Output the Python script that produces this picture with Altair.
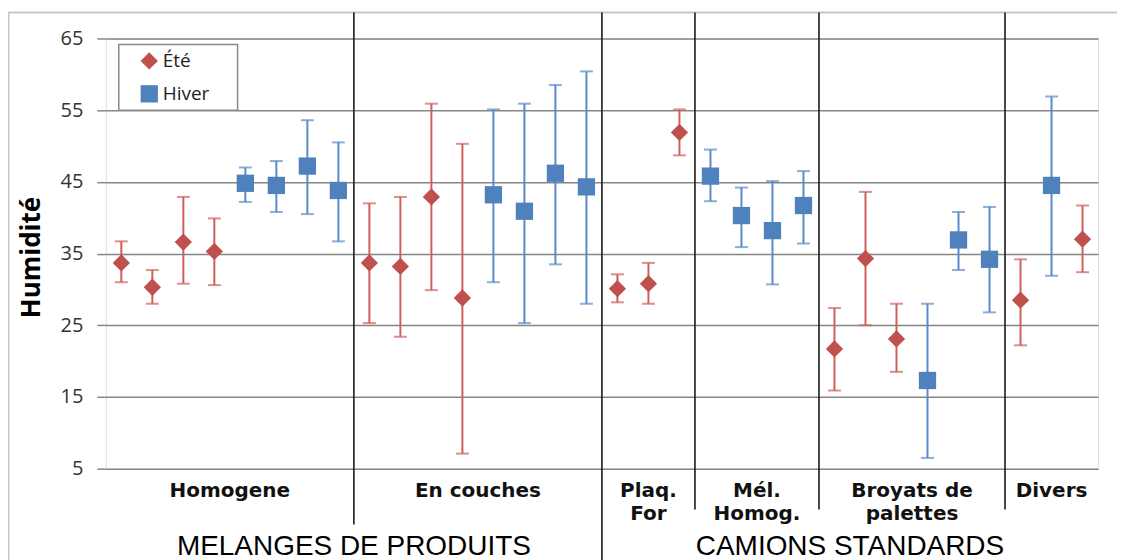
import altair as alt
import pandas as pd

# ---------------- data ----------------
groups = ["MELANGES DE PRODUITS", "CAMIONS STANDARDS"]
categories = ["Homogene", "En couches", "Plaq.\nFor", "Mél.\nHomog.", "Broyats de\npalettes", "Divers"]
category_group = [0, 0, 1, 1, 1, 1]
seasons = ["Été", "Hiver"]

point_category = [0] * 8 + [1] * 8 + [2] * 3 + [3] * 4 + [4] * 6 + [5] * 3
point_season = (["Été"] * 4 + ["Hiver"] * 4 + ["Été"] * 4 + ["Hiver"] * 4 + ["Été"] * 3
                + ["Hiver"] * 4 + ["Été"] * 3 + ["Hiver"] * 3 + ["Été", "Hiver", "Été"])
mean = [33.7, 30.3, 36.6, 35.3, 44.8, 44.5, 47.2, 43.8,
        33.7, 33.2, 42.9, 28.8, 43.2, 40.9, 46.2, 44.3,
        30.1, 30.8, 51.9,
        45.8, 40.3, 38.2, 41.7,
        21.7, 34.3, 23.1, 17.3, 36.9, 34.2,
        28.5, 44.5, 37.0]
low = [31.0, 28.0, 30.8, 30.6, 42.2, 40.8, 40.5, 36.7,
       25.3, 23.4, 29.9, 7.1, 31.0, 25.3, 33.5, 28.0,
       28.2, 28.0, 48.7,
       42.3, 35.9, 30.7, 36.4,
       15.9, 25.0, 18.5, 6.5, 32.7, 26.8,
       22.2, 31.9, 32.4]
high = [36.7, 32.7, 42.9, 39.9, 47.0, 47.9, 53.6, 50.5,
        42.0, 42.9, 55.9, 50.3, 55.1, 55.9, 58.5, 60.4,
        32.1, 33.7, 55.1,
        49.5, 44.2, 45.1, 46.5,
        27.4, 43.6, 28.0, 28.0, 40.8, 41.5,
        34.2, 56.9, 41.7]
y_ticks = [5, 15, 25, 35, 45, 55, 65]

# ---------------- derived tables ----------------
n = len(mean)
df = pd.DataFrame({
    "pos": [i + 0.5 for i in range(n)],
    "saison": point_season,
    "mean": mean,
    "low": low,
    "high": high,
})

counts = [point_category.count(c) for c in range(len(categories))]
starts = [sum(counts[:c]) for c in range(len(categories))]
cat_df = pd.DataFrame({
    "label": categories,
    "center": [starts[c] + counts[c] / 2 for c in range(len(categories))],
})

g_start, g_end = [], []
for g in range(len(groups)):
    idx = [c for c in range(len(categories)) if category_group[c] == g]
    g_start.append(starts[idx[0]])
    g_end.append(starts[idx[-1]] + counts[idx[-1]])
grp_df = pd.DataFrame({"label": groups, "center": [(a + b) / 2 for a, b in zip(g_start, g_end)]})

sep_rows = []
for c in range(1, len(categories)):
    kind = "group" if category_group[c] != category_group[c - 1] else f"in{category_group[c]}"
    sep_rows.append({"x": starts[c], "kind": kind})
sep_df = pd.DataFrame(sep_rows)

# ---------------- styling ----------------
RED = "#C0504D"
BLUE = "#4F81BD"
RED_BAR = "#CF5F5B"
BLUE_BAR = "#5A8ACB"
GRID = "#858585"

x_scale = alt.Scale(domain=[0, n], nice=False, zero=False)
y_scale = alt.Scale(domain=[5, 65], nice=False, zero=False)
X = lambda f: alt.X(f, type="quantitative", scale=x_scale, axis=None)

bar_color = alt.condition(alt.datum.saison == "Été", alt.value(RED_BAR), alt.value(BLUE_BAR))

base = alt.Chart(df)

bars = base.mark_rule(strokeWidth=2).encode(
    x=X("pos"),
    y=alt.Y("low:Q", scale=y_scale, title="Humidité",
            axis=alt.Axis(values=y_ticks, grid=True, gridColor=GRID, gridWidth=1.5,
                          domain=False, ticks=True, tickSize=9, tickColor=GRID, tickWidth=1.5,
                          labelFont="Open Sans", labelFontSize=20, labelColor="#333",
                          labelPadding=14,
                          titleFont="Open Sans", titleFontSize=26, titleFontWeight="bold",
                          titleColor="#000", titleAngle=270, titleX=-74, titleY=219,
                          titleAlign="center", titleBaseline="middle")),
    y2="high:Q",
    color=bar_color,
)
cap_lo = base.mark_tick(orient="horizontal", size=13, thickness=2).encode(
    x=X("pos"), y=alt.Y("low:Q", scale=y_scale), color=bar_color)
cap_hi = base.mark_tick(orient="horizontal", size=13, thickness=2).encode(
    x=X("pos"), y=alt.Y("high:Q", scale=y_scale), color=bar_color)

legend = alt.Legend(title=None, orient="none", legendX=13, legendY=5, padding=8,
                    symbolSize=300, symbolOffset=13, labelOffset=4,
                    labelFont="Open Sans", labelFontSize=19,
                    labelColor="#222", rowPadding=13, symbolStrokeWidth=0)

# legend frame (decoration behind the native legend)
legend_box = alt.Chart(grp_df.head(1)).mark_rect(
    fill="white", stroke="#8a8a8a", strokeWidth=1.5).encode(
    x=alt.value(13), x2=alt.value(132), y=alt.value(6), y2=alt.value(72))

points = base.mark_point(filled=True, size=300, opacity=1, strokeWidth=0).encode(
    x=X("pos"),
    y=alt.Y("mean:Q", scale=y_scale),
    color=alt.Color("saison:N", scale=alt.Scale(domain=seasons, range=[RED, BLUE]), legend=legend),
    shape=alt.Shape("saison:N", scale=alt.Scale(domain=seasons, range=["diamond", "square"]),
                    legend=legend),
)

sep = alt.Chart(sep_df)
sep_a = sep.transform_filter(alt.datum.kind == "in0").mark_rule(color="#1a1a1a", strokeWidth=1.6).encode(
    x=X("x"), y=alt.value(-26), y2=alt.value(487))
sep_b = sep.transform_filter(alt.datum.kind == "group").mark_rule(color="#1a1a1a", strokeWidth=1.6).encode(
    x=X("x"), y=alt.value(-26), y2=alt.value(530))
sep_c = sep.transform_filter(alt.datum.kind == "in1").mark_rule(color="#1a1a1a", strokeWidth=1.6).encode(
    x=X("x"), y=alt.value(-26), y2=alt.value(472))

frame_top = alt.Chart(grp_df).mark_rule(color="#c4c4c4", strokeWidth=1.5).encode(
    x=alt.value(-97.5), x2=alt.value(1030), y=alt.value(-26))
frame_left = alt.Chart(grp_df).mark_rule(color="#c4c4c4", strokeWidth=1.5).encode(
    x=alt.value(-97.5), y=alt.value(-26), y2=alt.value(530))

cat_text = alt.Chart(cat_df).mark_text(
    font="DejaVu Sans", fontWeight="bold", fontSize=20, lineBreak="\n", lineHeight=23,
    align="center", baseline="middle", color="#111").encode(
    x=X("center"), y=alt.value(453), text="label:N")

grp_text = alt.Chart(grp_df).mark_text(
    font="Liberation Sans", fontSize=28, align="center", baseline="alphabetic", color="#000").encode(
    x=X("center"), y=alt.value(517), text="label:N")

chart = alt.layer(
    frame_top, frame_left, legend_box, bars, cap_lo, cap_hi, points,
    sep_a, sep_b, sep_c, cat_text, grp_text
).properties(
    width=994, height=431,
    padding={"left": 98, "top": 30, "right": 19, "bottom": 91},
    autosize=alt.AutoSizeParams(type="none"),
).configure_view(stroke=GRID, strokeWidth=1.5).configure(background="white")

chart.save("out.html", embed_options={"renderer": "svg", "actions": False})
